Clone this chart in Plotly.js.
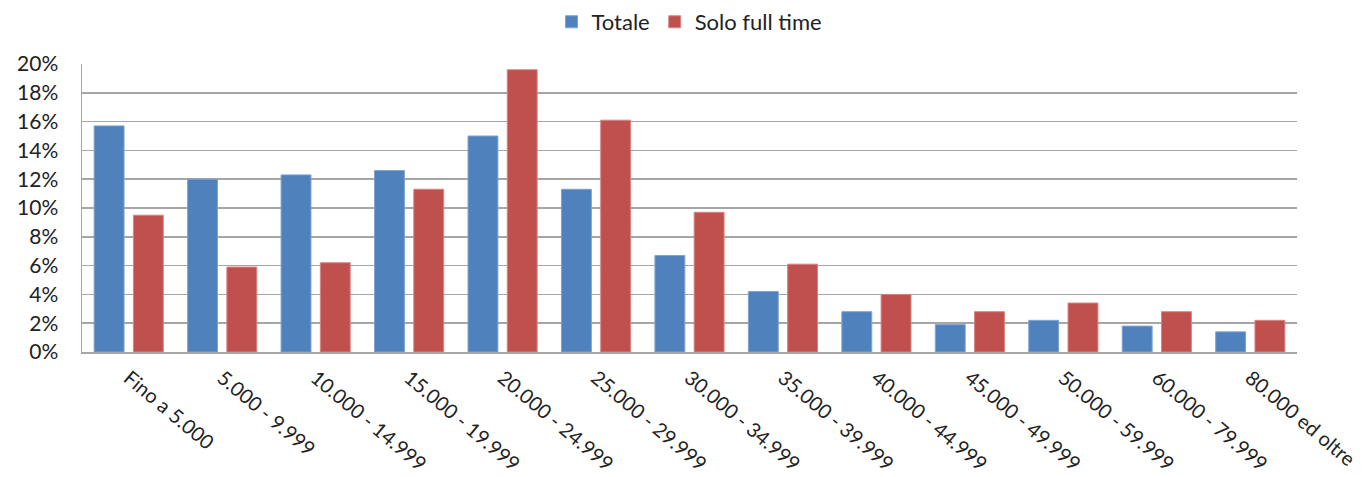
<!DOCTYPE html>
<html>
<head>
<meta charset="utf-8">
<script src="https://cdn.plot.ly/plotly-3.0.1.min.js"></script>
<style>html,body{margin:0;padding:0;background:#fff;}#chart{width:1371px;height:477px;}</style>
</head>
<body>
<div id="chart"></div>
<script>
const categories = ["Fino a 5.000","5.000 - 9.999","10.000 - 14.999","15.000 - 19.999","20.000 - 24.999","25.000 - 29.999","30.000 - 34.999","35.000 - 39.999","40.000 - 44.999","45.000 - 49.999","50.000 - 59.999","60.000 - 79.999","80.000 ed oltre"];
const totale = [15.7, 12.0, 12.3, 12.6, 15.0, 11.3, 6.7, 4.2, 2.8, 1.9, 2.2, 1.8, 1.4];
const soloFullTime = [9.5, 5.9, 6.2, 11.3, 19.6, 16.1, 9.7, 6.1, 4.0, 2.8, 3.4, 2.8, 2.2];
const seriesNames = ["Totale", "Solo full time"];
const yTicks = [0, 2, 4, 6, 8, 10, 12, 14, 16, 18, 20];
const yTickLabels = ["0%", "2%", "4%", "6%", "8%", "10%", "12%", "14%", "16%", "18%", "20%"];

const traces = [
  {type:'bar', name:seriesNames[0], x:categories, y:totale, width:0.32, offset:-0.37,
   marker:{color:'#4F81BD', line:{color:'#7FA3D3', width:1}}},
  {type:'bar', name:seriesNames[1], x:categories, y:soloFullTime, width:0.32, offset:0.05,
   marker:{color:'#C0504D', line:{color:'#D98482', width:1}}}
];

const layout = {
  width:1371, height:477,
  margin:{l:82, r:74, t:64, b:125, autoexpand:false},
  paper_bgcolor:'#ffffff', plot_bgcolor:'#ffffff',
  font:{family:'Lato, "Open Sans", sans-serif', size:20, color:'#222'},
  barmode:'group',
  showlegend:true,
  legend:{orientation:'h', x:0.5, xanchor:'center', y:1.146, yanchor:'middle',
          font:{size:22, color:'#222'}, itemwidth:30, traceorder:'normal'},
  xaxis:{type:'category', tickangle:40, tickfont:{size:20, color:'#222'},
         showline:true, linecolor:'#A6A6A6', linewidth:1.5, showgrid:false,
         ticks:'', ticklabelstandoff:5, automargin:false},
  yaxis:{range:[0,20], tickmode:'array', tickvals:yTicks, ticktext:yTickLabels,
         tickfont:{size:21, color:'#222'},
         showgrid:true, gridcolor:'#A6A6A6', gridwidth:1.5,
         showline:true, linecolor:'#A6A6A6', linewidth:1.5, zeroline:false,
         ticks:'', ticklen:0, ticklabelstandoff:18, automargin:false}
};

Plotly.newPlot('chart', traces, layout, {displayModeBar:false, staticPlot:true});
</script>
</body>
</html>
